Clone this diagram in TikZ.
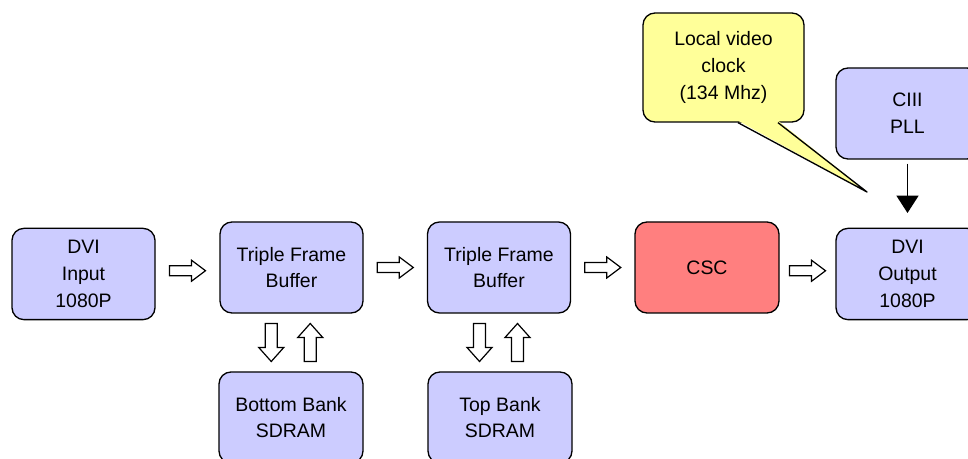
\documentclass[tikz,border=0pt]{standalone}
\usepackage{fontspec}
\setmainfont{Liberation Sans}
\usetikzlibrary{calc,arrows.meta}
\definecolor{boxblue}{HTML}{CCCCFF}
\definecolor{cscred}{HTML}{FF7F7F}
\definecolor{noteyellow}{HTML}{FFFF99}
\tikzset{
  blk/.style={draw=black, line width=1pt, rounded corners=9pt, fill=boxblue,
    minimum width=107.25pt, minimum height=68.5pt, inner sep=0pt, align=center,
    font=\fontsize{14.6pt}{20pt}\selectfont},
  hollow/.style={draw=black, line width=0.9pt, fill=white},
}
\newcommand{\harrowat}[1]{%
  \draw[hollow, shift={#1}] (-18,-5) -- (4,-5) -- (4,-10.5) -- (18,0) -- (4,10.5) -- (4,5) -- (-18,5) -- cycle;}
\newcommand{\darrowat}[1]{%
  \draw[hollow, shift={#1}] (-6,-19) -- (6,-19) -- (6,5) -- (12.5,5) -- (0,19) -- (-12.5,5) -- (-6,5) -- cycle;}
\newcommand{\uarrowat}[1]{%
  \draw[hollow, shift={#1}] (-6,19) -- (6,19) -- (6,-5) -- (12.5,-5) -- (0,-19) -- (-12.5,-5) -- (-6,-5) -- cycle;}
\begin{document}
\begin{tikzpicture}[x=0.75pt,y=-0.75pt]
\useasboundingbox (0,0) rectangle (968,459);
\node[blk] (in) at (83.5,274) {DVI\\Input\\1080P};
\node[blk, minimum height=68.25pt] (tfb1) at (291.5,267.5) {Triple Frame\\Buffer};
\node[blk, minimum height=68.25pt] (tfb2) at (499,267.5) {Triple Frame\\Buffer};
\node[blk, minimum height=68.25pt, minimum width=108pt, fill=cscred] (csc) at (707,267.5) {CSC};
\node[blk] (out) at (907.5,274) {DVI\\Output\\1080P};
\node[blk, minimum height=68.25pt] (pll) at (907.5,113.5) {CIII\\PLL};
\node[blk, minimum height=68.25pt, minimum width=108pt] (bb) at (291,417.5) {Bottom Bank\\SDRAM};
\node[blk, minimum height=68.25pt, minimum width=108pt] (tb) at (500,417.5) {Top Bank\\SDRAM};
\node[blk, fill=noteyellow, minimum width=120.75pt, minimum height=81.75pt] (clk) at (723.5,67.5) {Local video\\clock\\(134 Mhz)};
% callout pointer
\coordinate (tip) at (867,192);
\coordinate (pa) at ($(clk.south)+(14.5,0)$);
\coordinate (pb) at ($(clk.south)+(54.5,0)$);
\fill[noteyellow] ($(pa)+(0,-2)$) -- (tip) -- ($(pb)+(0,-2)$) -- cycle;
\draw[line width=1pt, line join=round] (pa) -- (tip) -- (pb);
% horizontal flow arrows
\harrowat{($(in.east)!0.5!(tfb1.west)$)}
\harrowat{($(tfb1.east)!0.5!(tfb2.west)$)}
\harrowat{($(tfb2.east)!0.5!(csc.west)$)}
\harrowat{($(csc.east)!0.5!(out.west)$)}
% memory arrows
\darrowat{($(tfb1.south)!0.5!(bb.north)+(-20,0)$)}
\uarrowat{($(tfb1.south)!0.5!(bb.north)+(19,0)$)}
\darrowat{($(tfb2.south)!0.5!(tb.north)+(-20,0)$)}
\uarrowat{($(tfb2.south)!0.5!(tb.north)+(18,0)$)}
% PLL arrow
\draw[line width=1pt, -{Triangle[length=13pt,width=16.5pt]}, shorten <=3pt, shorten >=11pt] (pll.south) -- (pll.south |- out.north);
\end{tikzpicture}
\end{document}
